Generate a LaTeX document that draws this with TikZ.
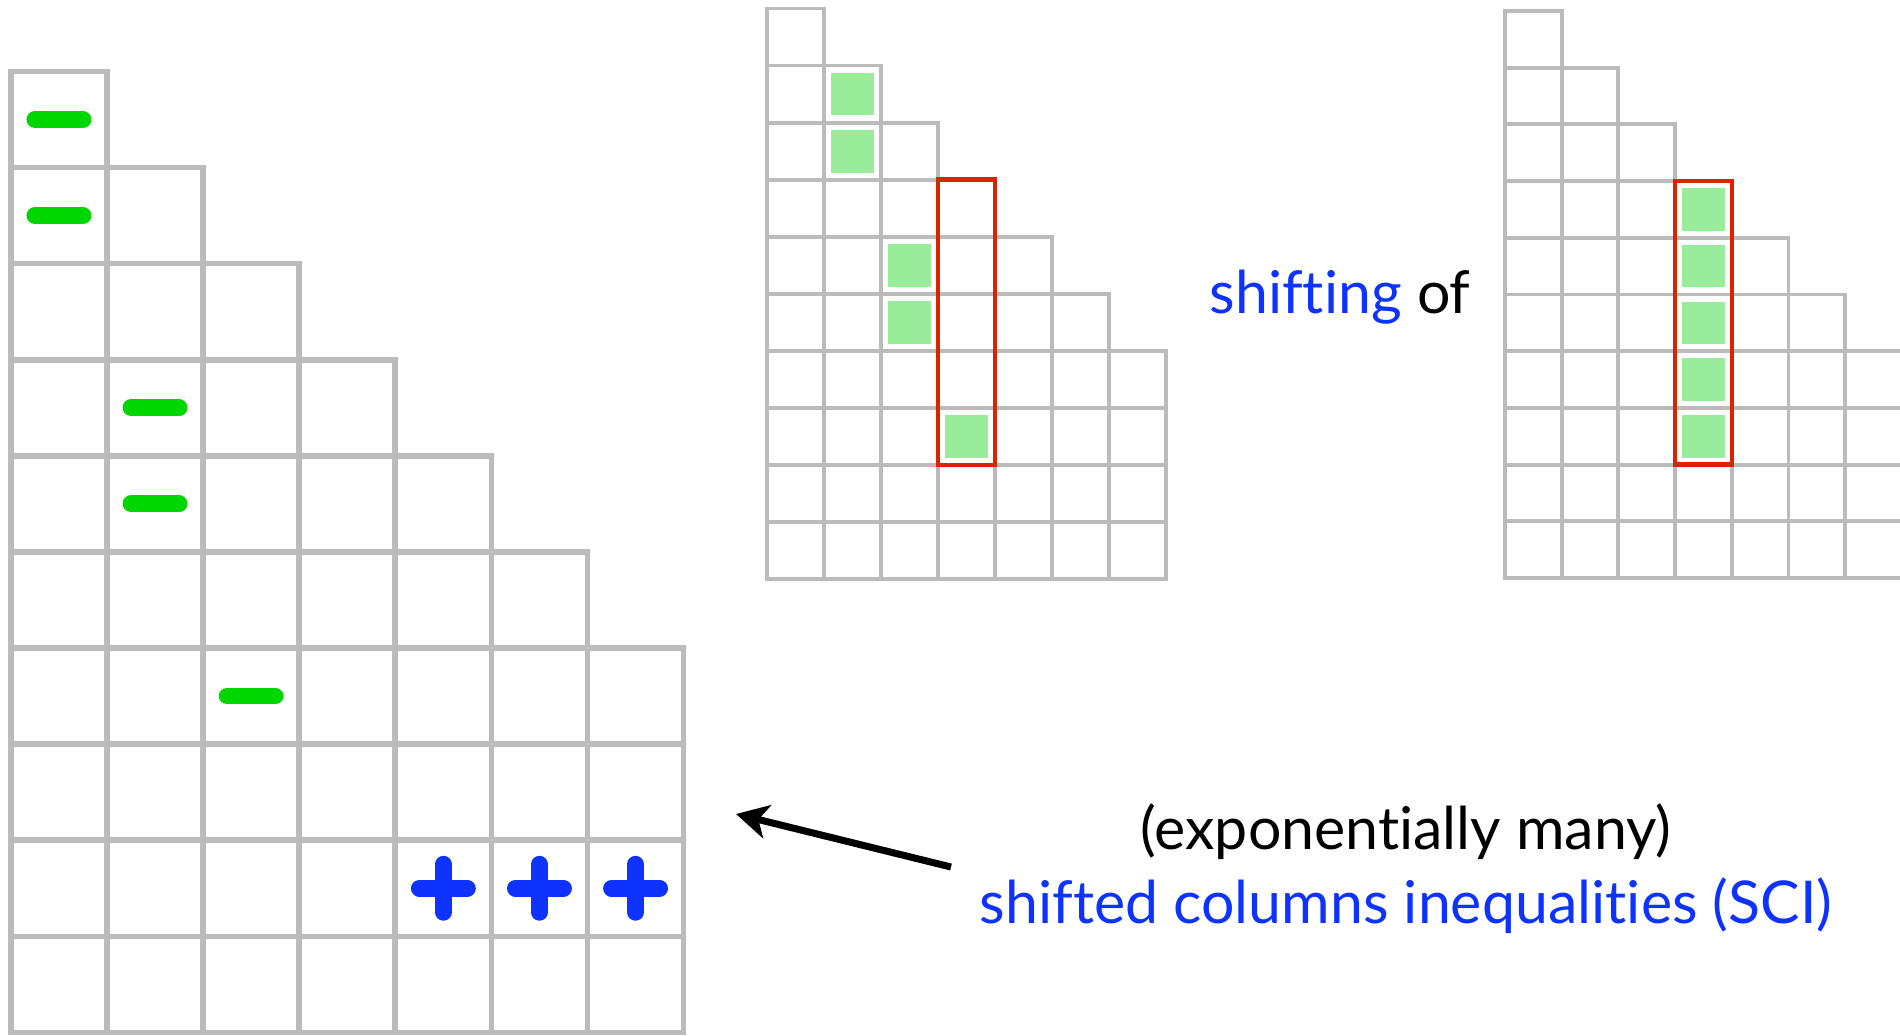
\documentclass[tikz,border=0pt]{standalone}
\usepackage{fontspec}
\setmainfont{Lato}[Ligatures=NoCommon]
\usepackage{tikz}
\usetikzlibrary{arrows.meta,positioning}
\definecolor{GridGray}{HTML}{BBBBBB}
\definecolor{MinusGreen}{HTML}{00D600}
\definecolor{SciBlue}{HTML}{0E33FF}
\definecolor{CellGreen}{HTML}{99EC99}
\definecolor{BoxRed}{HTML}{DD2200}

\begin{document}
\begin{tikzpicture}[font=\fontsize{16.8}{19}\selectfont,
  bigcell/.style={draw=GridGray,line width=1.6pt},
  smallcell/.style={draw=GridGray,line width=1.1pt},
  minusbar/.style={MinusGreen,line width=4.8pt,line cap=round},
  plusbar/.style={SciBlue,line width=4.8pt,line cap=round},
  shiftbox/.style={draw=BoxRed,line width=1.3pt},
  sciarrow/.style={-{Stealth[length=3.2mm,width=3.4mm,inset=0.9mm]},line width=2pt}]
  \useasboundingbox (0,0) rectangle (19,10.35);
  \clip (0,0) rectangle (19,10.35);

  % big staircase with the inequality
  \begin{scope}[shift={(0.109,0.026)},scale=0.961]
    \foreach \r in {1,...,10}{
      \pgfmathtruncatemacro\n{min(\r,7)}
      \foreach \c in {1,...,\n}
        \draw[bigcell] (\c-1,10-\r) rectangle ++(1,1);
    }
    \foreach \c/\r in {1/1,1/2,2/4,2/5,3/7}
      \draw[minusbar] (\c-0.75,10.5-\r) -- ++(0.5,0);
    \foreach \c in {5,6,7}{
      \draw[plusbar] (\c-0.75,1.5) -- ++(0.5,0);
      \draw[plusbar] (\c-0.5,1.25) -- ++(0,0.5);
    }
  \end{scope}

  % shifted column
  \begin{scope}[shift={(7.67,4.56)},scale=0.5705]
    \foreach \r in {1,...,10}{
      \pgfmathtruncatemacro\n{min(\r,7)}
      \foreach \c in {1,...,\n}
        \draw[smallcell] (\c-1,10-\r) rectangle ++(1,1);
    }
    \foreach \c/\r in {2/2,2/3,3/5,3/6,4/8}
      \fill[CellGreen] (\c-0.875,10.125-\r) rectangle ++(0.75,0.75);
    \draw[shiftbox] (3,2) rectangle (4,7);
  \end{scope}

  % full column
  \begin{scope}[shift={(15.05,4.57)},scale=0.567]
    \foreach \r in {1,...,10}{
      \pgfmathtruncatemacro\n{min(\r,7)}
      \foreach \c in {1,...,\n}
        \draw[smallcell] (\c-1,10-\r) rectangle ++(1,1);
    }
    \foreach \r in {4,...,8}
      \fill[CellGreen] (3.125,10.125-\r) rectangle ++(0.75,0.75);
    \draw[shiftbox] (3,2) rectangle (4,7);
  \end{scope}

  \node[anchor=base] (shiftlbl) at (13.40,7.22) {\textcolor{SciBlue}{shifting} of};
  \node[anchor=base] (scicount) at (14.06,1.86) {(exponentially many)};
  \node[below=7.4mm of scicount.base,anchor=base,text=SciBlue] (sciname)
    {shifted columns inequalities (SCI)};

  \coordinate (arrowtail) at (9.51,1.68);
  \coordinate (arrowtip) at (7.36,2.21);
  \draw[sciarrow] (arrowtail) -- (arrowtip);
\end{tikzpicture}
\end{document}
